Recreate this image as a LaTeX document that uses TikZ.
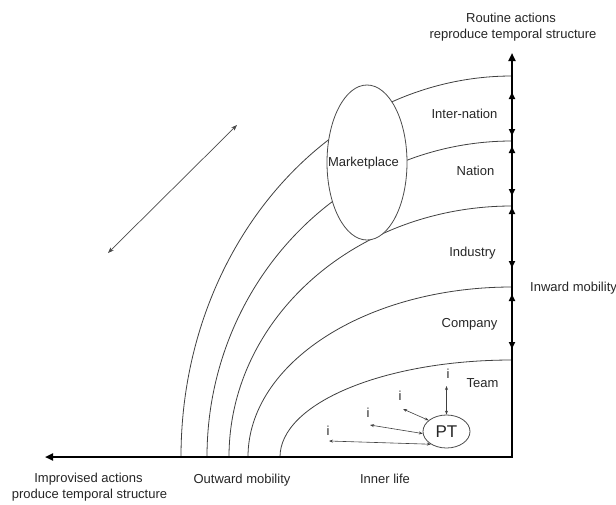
\documentclass[tikz,border=0pt]{standalone}
\usepackage{fontspec}
\setmainfont{Liberation Sans}
\usetikzlibrary{arrows.meta,shapes.geometric}
\begin{document}
\begin{tikzpicture}[x=1pt,y=-1pt,
  lbl/.style={font=\fontsize{13}{15}\selectfont, text=black!85, inner sep=0pt, anchor=base},
  axisline/.style={line width=2pt, black},
  ring/.style={line width=0.8pt, black!75},
  seg/.style={line width=2pt, {Triangle[length=7pt,width=6pt]}-{Triangle[length=7pt,width=6pt]}},
  iarrow/.style={line width=0.6pt, black!75, {Stealth[length=4pt,width=3pt]}-{Stealth[length=4pt,width=3pt]}},
  bigarrow/.style={line width=0.7pt, black!70, {Stealth[length=6pt,width=4.5pt]}-{Stealth[length=6pt,width=4.5pt]}},
  oval/.style={ellipse, draw=black!70, line width=0.8pt, fill=white, inner sep=0pt}
]
\useasboundingbox (0,0) rectangle (616,504);
\fill[white] (0,0) rectangle (616,504);

\coordinate (O) at (512,457);
\coordinate (top) at (512,53);
\coordinate (left) at (45,457);

% rings
\draw[ring] (512,76) arc[start angle=90,end angle=180,x radius=331pt,y radius=381pt];
\draw[ring] (512,141) arc[start angle=90,end angle=180,x radius=305pt,y radius=316pt];
\draw[ring] (512,206) arc[start angle=90,end angle=180,x radius=283pt,y radius=251pt];
\draw[ring] (512,287) arc[start angle=90,end angle=180,x radius=264pt,y radius=170pt];
\draw[ring] (512,360) arc[start angle=90,end angle=180,x radius=232pt,y radius=97pt];

% axes
\draw[axisline, {Triangle[length=8pt,width=7pt]}-{Triangle[length=8pt,width=7pt]}] (left) -- (O) -- (top);
\draw[seg] (512,92) -- (512,136);
\draw[seg] (512,146) -- (512,196);
\draw[seg] (512,207) -- (512,268);
\draw[seg] (512,294) -- (512,349);

% marketplace
\node[oval, minimum width=80pt, minimum height=155pt] (mkt) at (367,162.5) {};
\node[lbl] (mkttext) at (363.5,166.5) {Marketplace};

% big double arrow
\coordinate (d1) at (108,253);
\coordinate (d2) at (237,125);
\draw[bigarrow] (d1) -- (d2);

% labels
\node[lbl] (r1) at (511,22) {Routine actions};
\node[lbl] (r2) at (513,38) {reproduce temporal structure};
\node[lbl] (p1) at (88.5,482.5) {Improvised actions};
\node[lbl] (p2) at (89.5,498.5) {produce temporal structure};
\node[lbl] (out) at (242,483.5) {Outward mobility};
\node[lbl] (inner) at (385,483.5) {Inner life};
\node[lbl, anchor=base west] (inward) at (530,291) {Inward mobility};

\node[lbl] (l1) at (464.5,118.6) {Inter-nation};
\node[lbl] (l2) at (475.5,175) {Nation};
\node[lbl] (l3) at (472.5,256.5) {Industry};
\node[lbl] (l4) at (469.5,327.5) {Company};
\node[lbl] (l5) at (482.5,387) {Team};

% PT and i
\node[oval, minimum width=47pt, minimum height=33pt, font=\fontsize{17}{17}\selectfont, text=black!85] (PT) at (446.5,431.5) {PT};
\node[lbl] (i1) at (448,378) {i};
\node[lbl] (i2) at (400,400) {i};
\node[lbl] (i3) at (368,417) {i};
\node[lbl] (i4) at (328,435) {i};
\coordinate (t1) at (446.5,386);
\coordinate (t2) at (403,409);
\coordinate (t3) at (370,425);
\coordinate (t4) at (329,441);
\draw[iarrow] (PT.north) -- (t1);
\draw[iarrow] (PT.148) -- (t2);
\draw[iarrow] (PT.185) -- (t3);
\draw[iarrow] (PT.219) -- (t4);
\end{tikzpicture}
\end{document}
